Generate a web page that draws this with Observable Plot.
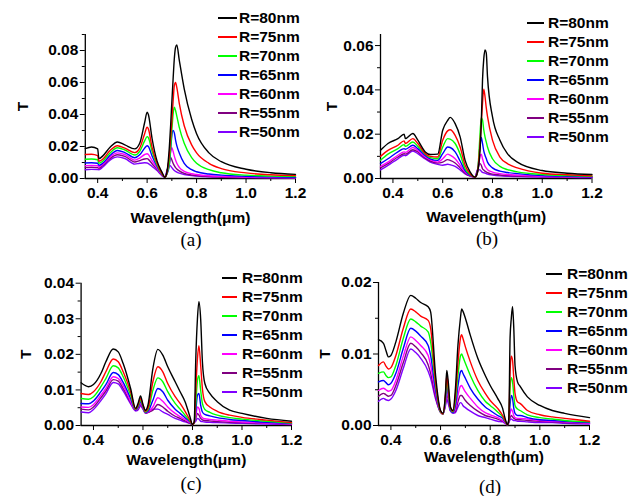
<!DOCTYPE html>
<html><head><meta charset="utf-8">
<script src="https://cdn.jsdelivr.net/npm/d3@7"></script>
<script src="https://cdn.jsdelivr.net/npm/@observablehq/plot@0.6"></script>
<style>
body{margin:0;background:#fff;}
#fig{position:relative;width:639px;height:496px;background:#fff;overflow:hidden;}
.panel{position:absolute;}
.leg{position:absolute;height:19px;font:bold 15.5px 'Liberation Sans',Arial,sans-serif;line-height:19px;white-space:nowrap;color:#000;}
.leg i{position:absolute;left:0;top:9px;height:2px;}
.leg span{position:absolute;top:0;}
.cap{position:absolute;width:60px;text-align:center;font:19px 'Liberation Serif','Times New Roman',serif;line-height:19px;color:#000;}
</style></head><body><div id="fig"></div><script>
const seriesLabels = ["R=80nm","R=75nm","R=70nm","R=65nm","R=60nm","R=55nm","R=50nm"];
const seriesColors = ["#000000","#ff0000","#00ff00","#0000ff","#ff00ff","#800080","#8000ff"];
const xDomain = [0.35, 1.2];
const xTicksMajor = [0.4, 0.6, 0.8, 1.0, 1.2];
const xTicksMinor = [0.5, 0.7, 0.9, 1.1];

// ---- panel (a)
const xA = [0.35,0.375,0.40,0.405,0.42,0.45,0.48,0.51,0.55, 0.57,0.59,0.60,0.605,0.62,0.64,0.66,0.672, 0.68,0.69,0.695,0.70,0.705,0.71,0.715,0.72,0.73, 0.75,0.78,0.80,0.85,0.90,1.0,1.1,1.2];
const a80 = [0.0187,0.0197,0.0185,0.0124,0.0140,0.0195,0.0228,0.0210,0.0185, 0.0220,0.0350,0.0415,0.0400,0.0250,0.0110,0.0040,0.0008, 0.0040,0.0200,0.0330,0.0480,0.0620,0.0750,0.0820,0.0835,0.0740, 0.0560,0.0370,0.0280,0.0160,0.0105,0.0058,0.0036,0.0026];
const a75 = [0.0150,0.0152,0.0143,0.0108,0.0120,0.0175,0.0205,0.0190,0.0162, 0.0190,0.0280,0.0320,0.0310,0.0195,0.0095,0.0030,0.0008, 0.0035,0.0150,0.0250,0.0360,0.0480,0.0580,0.0600,0.0570,0.0470, 0.0330,0.0210,0.0160,0.0095,0.0062,0.0035,0.0023,0.0018];
const a70 = [0.0120,0.0122,0.0117,0.0095,0.0108,0.0160,0.0192,0.0178,0.0147, 0.0170,0.0235,0.0262,0.0255,0.0170,0.0085,0.0028,0.0008, 0.0030,0.0100,0.0190,0.0300,0.0400,0.0445,0.0425,0.0390,0.0320, 0.0220,0.0130,0.0095,0.0055,0.0036,0.0021,0.0015,0.0012];
const a65 = [0.0097,0.0098,0.0095,0.0082,0.0095,0.0145,0.0175,0.0162,0.0130, 0.0148,0.0190,0.0205,0.0200,0.0140,0.0075,0.0025,0.0008, 0.0028,0.0085,0.0180,0.0270,0.0300,0.0285,0.0240,0.0205,0.0160, 0.0095,0.0055,0.0042,0.0028,0.0021,0.0014,0.0010,0.0008];
const a60 = [0.0080,0.0082,0.0080,0.0072,0.0088,0.0135,0.0160,0.0150,0.0115, 0.0128,0.0150,0.0155,0.0150,0.0112,0.0065,0.0022,0.0008, 0.0030,0.0095,0.0165,0.0192,0.0170,0.0140,0.0115,0.0095,0.0070, 0.0045,0.0030,0.0025,0.0017,0.0013,0.0009,0.0007,0.0006];
const a55 = [0.0068,0.0070,0.0068,0.0064,0.0080,0.0125,0.0148,0.0138,0.0103, 0.0112,0.0122,0.0124,0.0120,0.0092,0.0058,0.0020,0.0008, 0.0040,0.0120,0.0132,0.0115,0.0095,0.0080,0.0068,0.0060,0.0048, 0.0032,0.0022,0.0018,0.0012,0.0009,0.0007,0.0005,0.0004];
const a50 = [0.0055,0.0057,0.0056,0.0055,0.0070,0.0115,0.0135,0.0125,0.0090, 0.0095,0.0098,0.0097,0.0093,0.0075,0.0050,0.0018,0.0008, 0.0050,0.0082,0.0078,0.0068,0.0058,0.0050,0.0045,0.0040,0.0033, 0.0025,0.0018,0.0015,0.0010,0.0008,0.0006,0.0004,0.0003];
const yTicksA = [0, 0.02, 0.04, 0.06, 0.08];
const yMinorA = [0.01, 0.03, 0.05, 0.07, 0.09];

// ---- panel (b)
const xB = [0.35,0.38,0.42,0.445,0.45,0.48,0.50,0.53,0.55,0.58, 0.60,0.62,0.63,0.65,0.67,0.69,0.71,0.73, 0.74,0.75,0.755,0.76,0.765,0.77,0.775,0.78, 0.80,0.83,0.86,0.90,1.0,1.1,1.2];
const b80 = [0.0127,0.0158,0.0180,0.0200,0.0180,0.0203,0.0173,0.0120,0.0108,0.0110, 0.0218,0.0262,0.0276,0.0248,0.0188,0.0082,0.0030,0.0006, 0.0030,0.0127,0.0250,0.0445,0.0540,0.0580,0.0567,0.0460, 0.0279,0.0173,0.0112,0.0074,0.0036,0.0024,0.0018];
const b75 = [0.0100,0.0127,0.0150,0.0170,0.0158,0.0180,0.0158,0.0112,0.0100,0.0097, 0.0173,0.0215,0.0220,0.0195,0.0142,0.0060,0.0021,0.0006, 0.0030,0.0158,0.0250,0.0340,0.0403,0.0370,0.0320,0.0280, 0.0173,0.0097,0.0067,0.0048,0.0024,0.0017,0.0012];
const b70 = [0.0082,0.0110,0.0135,0.0153,0.0145,0.0165,0.0145,0.0110,0.0094,0.0089, 0.0142,0.0180,0.0178,0.0158,0.0110,0.0044,0.0018,0.0006, 0.0030,0.0200,0.0275,0.0264,0.0220,0.0188,0.0165,0.0142, 0.0089,0.0055,0.0040,0.0030,0.0018,0.0013,0.0010];
const b65 = [0.0067,0.0089,0.0120,0.0135,0.0132,0.0150,0.0135,0.0103,0.0089,0.0082, 0.0112,0.0142,0.0140,0.0120,0.0079,0.0036,0.0015,0.0006, 0.0030,0.0150,0.0185,0.0158,0.0125,0.0105,0.0090,0.0074, 0.0048,0.0033,0.0027,0.0022,0.0013,0.0010,0.0008];
const b60 = [0.0055,0.0074,0.0105,0.0120,0.0118,0.0140,0.0127,0.0097,0.0085,0.0074, 0.0089,0.0110,0.0105,0.0089,0.0060,0.0029,0.0014,0.0006, 0.0028,0.0100,0.0110,0.0089,0.0070,0.0055,0.0047,0.0040, 0.0029,0.0022,0.0018,0.0015,0.0010,0.0008,0.0006];
const b55 = [0.0048,0.0067,0.0097,0.0112,0.0110,0.0130,0.0120,0.0092,0.0079,0.0070, 0.0074,0.0085,0.0082,0.0070,0.0048,0.0024,0.0012,0.0006, 0.0040,0.0067,0.0060,0.0044,0.0038,0.0033,0.0030,0.0026, 0.0020,0.0016,0.0013,0.0011,0.0008,0.0006,0.0005];
const b50 = [0.0039,0.0059,0.0089,0.0105,0.0103,0.0124,0.0112,0.0088,0.0074,0.0064, 0.0060,0.0064,0.0062,0.0055,0.0039,0.0021,0.0011,0.0006, 0.0040,0.0039,0.0033,0.0028,0.0026,0.0024,0.0022,0.0020, 0.0016,0.0012,0.0010,0.0009,0.0006,0.0005,0.0004];
const yTicksB = [0, 0.02, 0.04, 0.06];
const yMinorB = [0.01, 0.03, 0.05];

// ---- panel (c)
const xC = [0.35,0.38,0.40,0.43,0.45,0.48,0.50,0.52,0.55, 0.57,0.58,0.59,0.60,0.61,0.62, 0.64,0.66,0.68,0.70,0.73,0.75,0.77, 0.79,0.80,0.807,0.813,0.82,0.826,0.833,0.84,0.85, 0.87,0.90,0.95,1.0,1.1,1.2];
const c80 = [0.0120,0.0109,0.0115,0.0146,0.0179,0.0215,0.0207,0.0174,0.0104, 0.0048,0.0062,0.0083,0.0059,0.0043,0.0057, 0.0160,0.0214,0.0198,0.0165,0.0123,0.0095,0.0067, 0.0024,0.0003,0.0010,0.0180,0.0300,0.0348,0.0300,0.0180,0.0118, 0.0090,0.0067,0.0043,0.0034,0.0020,0.0012];
const c75 = [0.0090,0.0087,0.0095,0.0123,0.0151,0.0187,0.0179,0.0151,0.0095, 0.0046,0.0057,0.0076,0.0057,0.0040,0.0048, 0.0123,0.0165,0.0151,0.0118,0.0081,0.0062,0.0040, 0.0015,0.0003,0.0008,0.0095,0.0188,0.0224,0.0170,0.0104,0.0067, 0.0052,0.0040,0.0029,0.0023,0.0015,0.0008];
const c70 = [0.0076,0.0074,0.0081,0.0109,0.0132,0.0168,0.0162,0.0137,0.0085, 0.0045,0.0054,0.0071,0.0054,0.0038,0.0043, 0.0099,0.0134,0.0123,0.0095,0.0062,0.0046,0.0029, 0.0012,0.0003,0.0008,0.0057,0.0127,0.0140,0.0099,0.0062,0.0045, 0.0037,0.0029,0.0022,0.0018,0.0012,0.0007];
const c65 = [0.0062,0.0061,0.0069,0.0095,0.0115,0.0149,0.0143,0.0121,0.0076, 0.0043,0.0051,0.0067,0.0052,0.0037,0.0040, 0.0071,0.0104,0.0095,0.0071,0.0046,0.0034,0.0022, 0.0010,0.0003,0.0008,0.0038,0.0085,0.0090,0.0057,0.0038,0.0031, 0.0027,0.0022,0.0017,0.0014,0.0009,0.0006];
const c60 = [0.0052,0.0051,0.0059,0.0085,0.0104,0.0137,0.0132,0.0112,0.0068, 0.0042,0.0048,0.0062,0.0050,0.0036,0.0038, 0.0052,0.0078,0.0068,0.0052,0.0034,0.0025,0.0017, 0.0008,0.0003,0.0008,0.0024,0.0052,0.0048,0.0029,0.0022,0.0019, 0.0017,0.0015,0.0012,0.0010,0.0007,0.0005];
const c55 = [0.0046,0.0044,0.0052,0.0078,0.0097,0.0129,0.0125,0.0104,0.0065, 0.0042,0.0046,0.0059,0.0048,0.0035,0.0037, 0.0043,0.0059,0.0052,0.0040,0.0026,0.0020,0.0013, 0.0006,0.0003,0.0008,0.0018,0.0034,0.0029,0.0020,0.0016,0.0014, 0.0013,0.0011,0.0009,0.0008,0.0006,0.0004];
const c50 = [0.0038,0.0036,0.0045,0.0070,0.0089,0.0121,0.0117,0.0097,0.0061, 0.0041,0.0044,0.0055,0.0046,0.0034,0.0036, 0.0046,0.0046,0.0038,0.0031,0.0020,0.0015,0.0010, 0.0006,0.0003,0.0008,0.0012,0.0020,0.0018,0.0012,0.0011,0.0010, 0.0009,0.0008,0.0007,0.0006,0.0004,0.0003];
const yTicksC = [0, 0.01, 0.02, 0.03, 0.04];
const yMinorC = [0.005, 0.015, 0.025, 0.035];

// ---- panel (d)
const xD = [0.35,0.37,0.38,0.39,0.40, 0.42,0.45,0.48,0.50,0.52,0.55,0.56, 0.58,0.60,0.61,0.62,0.625,0.63,0.64,0.65,0.66, 0.67,0.68,0.685,0.69,0.70, 0.72,0.75,0.78,0.80,0.83,0.85,0.86,0.87,0.875, 0.88,0.885,0.89,0.895,0.90,0.91,0.92, 0.95,1.0,1.05,1.1,1.2];
const d80 = [0.0120,0.0115,0.0105,0.0096,0.0098, 0.0117,0.0157,0.0182,0.0178,0.0172,0.0166,0.0159, 0.0070,0.0021,0.0017,0.0047,0.0077,0.0065,0.0026,0.0021,0.0052, 0.0112,0.0150,0.0163,0.0160,0.0150, 0.0126,0.0094,0.0070,0.0056,0.0038,0.0024,0.0010,0.0001,0.0010, 0.0122,0.0150,0.0166,0.0136,0.0084,0.0061,0.0055, 0.0040,0.0028,0.0021,0.0017,0.0011];
const d75 = [0.0084,0.0089,0.0083,0.0079,0.0081, 0.0098,0.0136,0.0163,0.0159,0.0153,0.0147,0.0136, 0.0061,0.0020,0.0016,0.0045,0.0070,0.0056,0.0024,0.0020,0.0042, 0.0087,0.0122,0.0127,0.0122,0.0110, 0.0089,0.0063,0.0045,0.0035,0.0024,0.0014,0.0007,0.0001,0.0007, 0.0075,0.0097,0.0091,0.0066,0.0045,0.0033,0.0031, 0.0021,0.0015,0.0012,0.0010,0.0006];
const d70 = [0.0073,0.0075,0.0070,0.0067,0.0068, 0.0084,0.0122,0.0149,0.0145,0.0139,0.0131,0.0117, 0.0056,0.0019,0.0016,0.0040,0.0063,0.0052,0.0023,0.0019,0.0035, 0.0070,0.0097,0.0100,0.0096,0.0087, 0.0070,0.0049,0.0034,0.0028,0.0019,0.0012,0.0006,0.0001,0.0008, 0.0052,0.0067,0.0061,0.0042,0.0028,0.0023,0.0021, 0.0015,0.0011,0.0009,0.0007,0.0005];
const d65 = [0.0061,0.0063,0.0060,0.0057,0.0059, 0.0073,0.0108,0.0136,0.0132,0.0125,0.0112,0.0098, 0.0049,0.0019,0.0016,0.0037,0.0056,0.0047,0.0021,0.0018,0.0028, 0.0055,0.0075,0.0077,0.0073,0.0066, 0.0052,0.0037,0.0026,0.0021,0.0014,0.0010,0.0005,0.0001,0.0008, 0.0029,0.0042,0.0038,0.0024,0.0017,0.0014,0.0014, 0.0011,0.0008,0.0007,0.0006,0.0004];
const d60 = [0.0049,0.0052,0.0050,0.0048,0.0049, 0.0063,0.0097,0.0124,0.0119,0.0112,0.0098,0.0084, 0.0045,0.0019,0.0016,0.0033,0.0049,0.0042,0.0021,0.0018,0.0023, 0.0042,0.0055,0.0056,0.0053,0.0047, 0.0038,0.0026,0.0018,0.0015,0.0011,0.0007,0.0004,0.0001,0.0006, 0.0017,0.0023,0.0020,0.0014,0.0011,0.0010,0.0010, 0.0009,0.0007,0.0006,0.0005,0.0003];
const d55 = [0.0041,0.0045,0.0043,0.0041,0.0042, 0.0056,0.0088,0.0115,0.0110,0.0102,0.0085,0.0073, 0.0040,0.0018,0.0016,0.0031,0.0043,0.0038,0.0021,0.0018,0.0020, 0.0033,0.0042,0.0042,0.0040,0.0035, 0.0028,0.0020,0.0014,0.0012,0.0009,0.0006,0.0004,0.0001,0.0005, 0.0011,0.0014,0.0012,0.0010,0.0009,0.0008,0.0008, 0.0007,0.0006,0.0005,0.0004,0.0003];
const d50 = [0.0034,0.0038,0.0036,0.0035,0.0037, 0.0049,0.0080,0.0107,0.0102,0.0094,0.0076,0.0066, 0.0037,0.0019,0.0017,0.0028,0.0037,0.0032,0.0020,0.0017,0.0018, 0.0026,0.0032,0.0031,0.0028,0.0025, 0.0020,0.0014,0.0011,0.0009,0.0006,0.0005,0.0003,0.0001,0.0004, 0.0008,0.0009,0.0008,0.0007,0.0007,0.0006,0.0006, 0.0005,0.0004,0.0004,0.0003,0.0002];
const yTicksD = [0, 0.01, 0.02];
const yMinorD = [0.005, 0.015];

const panels = [
  {cap:"(a)", x:xA, ys:[a80,a75,a70,a65,a60,a55,a50], yDomain:[0,0.09], yTicks:yTicksA, yMinor:yMinorA,
   box:[0,0,320,250], m:[34,25,72,84.8], xlo:44, ylo:68, leg:{x0:218,x1:237,tx:239,y0:18}, capPos:{cx:191,base:246}},
  {cap:"(b)", x:xB, ys:[b80,b75,b70,b65,b60,b55,b50], yDomain:[0,0.065], yTicks:yTicksB, yMinor:yMinorB,
   box:[320,0,319,250], m:[34,47.5,72,60], xlo:43, ylo:55, leg:{x0:527,x1:544,tx:548,y0:23}, capPos:{cx:487,base:245}},
  {cap:"(c)", x:xC, ys:[c80,c75,c70,c65,c60,c55,c50], yDomain:[0,0.04], yTicks:yTicksC, yMinor:yMinorC,
   box:[0,250,320,246], m:[32.7,29,71,80.6], xlo:39, ylo:61, leg:{x0:222,x1:237,tx:242,y0:278}, capPos:{cx:191,base:490}},
  {cap:"(d)", x:xD, ys:[d80,d75,d70,d65,d60,d55,d50], yDomain:[0,0.02], yTicks:yTicksD, yMinor:yMinorD,
   box:[320,250,319,246], m:[32,50,71,58], xlo:36, ylo:60, leg:{x0:546,x1:562,tx:567,y0:274}, capPos:{cx:490,base:493}}
];

const fig = document.getElementById("fig");
const blank = () => "";
for (const p of panels) {
  const rows = [];
  for (let i = p.ys.length - 1; i >= 0; i--) {
    p.x.forEach((w, j) => rows.push({wl: w, T: p.ys[i][j], R: seriesLabels[i]}));
  }
  const [bx, by, bw, bh] = p.box;
  const chart = Plot.plot({
    width: bw, height: bh,
    marginTop: p.m[0], marginRight: p.m[1], marginBottom: p.m[2], marginLeft: p.m[3],
    style: {fontFamily: "'Liberation Sans', Arial, sans-serif", fontSize: "15.5px", fontWeight: "bold", color: "#000", background: "transparent", overflow: "visible"},
    x: {domain: xDomain},
    y: {domain: p.yDomain},
    color: {domain: seriesLabels, range: seriesColors},
    marks: [
      Plot.axisX({ticks: xTicksMajor, tickSize: 5, tickPadding: 3, tickFormat: d3.format(".1f"), label: "Wavelength(μm)", labelAnchor: "center", labelOffset: p.xlo, labelArrow: "none"}),
      Plot.axisX({ticks: xTicksMinor, tickSize: 3, tickFormat: blank, label: null}),
      Plot.axisY({ticks: p.yTicks, tickSize: 5, tickPadding: 2, tickFormat: d3.format(".2f"), label: "T", labelAnchor: "center", labelOffset: p.ylo, labelArrow: "none"}),
      Plot.axisY({ticks: p.yMinor, tickSize: 3, tickFormat: blank, label: null}),
      Plot.ruleX([xDomain[0]], {strokeWidth: 1.3}),
      Plot.ruleY([p.yDomain[0]], {strokeWidth: 1.3}),
      Plot.line(rows, {x: "wl", y: "T", z: "R", stroke: "R", strokeWidth: 1.4, curve: "monotone-x"})
    ]
  });
  const holder = document.createElement("div");
  holder.className = "panel";
  holder.style.left = bx + "px"; holder.style.top = by + "px";
  holder.appendChild(chart);
  fig.appendChild(holder);

  // legend
  seriesLabels.forEach((lab, i) => {
    const row = document.createElement("div");
    row.className = "leg";
    row.style.left = p.leg.x0 + "px";
    row.style.top = Math.round(p.leg.y0 + i * 19 - 10) + "px";
    const ln = document.createElement("i");
    ln.style.width = (p.leg.x1 - p.leg.x0) + "px";
    ln.style.background = seriesColors[i];
    const tx = document.createElement("span");
    tx.style.left = (p.leg.tx - p.leg.x0) + "px";
    tx.textContent = lab;
    row.appendChild(ln); row.appendChild(tx);
    fig.appendChild(row);
  });

  const cap = document.createElement("div");
  cap.className = "cap";
  cap.style.left = (p.capPos.cx - 30) + "px";
  cap.style.top = (p.capPos.base - 15.9) + "px";
  cap.textContent = p.cap;
  fig.appendChild(cap);
}
</script></body></html>
